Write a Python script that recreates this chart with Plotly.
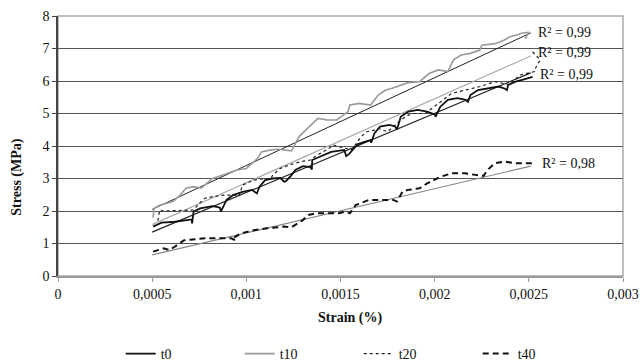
import plotly.graph_objects as go

# ---- data (strain, stress) ----
t0_strain = [0.000505, 0.00055, 0.00062, 0.00068, 0.00071, 0.000712, 0.000720, 0.000755, 0.00082, 0.00085, 0.00086, 0.000865,
             0.000895, 0.00093, 0.00098, 0.00103, 0.001056, 0.00107, 0.0011, 0.00114, 0.00118, 0.0012, 0.00121,
             0.00124, 0.00126, 0.0013, 0.00134, 0.001348, 0.00135, 0.00139, 0.00145, 0.00152, 0.00153, 0.001545,
             0.00159, 0.00164, 0.00166, 0.001663, 0.00168, 0.00171, 0.00176, 0.00179, 0.0018, 0.00182, 0.00186,
             0.00191, 0.00196, 0.002, 0.002005, 0.00203, 0.00207, 0.00212, 0.00216, 0.002177, 0.00219, 0.00223,
             0.00229, 0.00234, 0.00237, 0.002384, 0.00239, 0.00243, 0.00246, 0.0025, 0.00252]
t0_stress = [1.52, 1.64, 1.67, 1.72, 1.74, 1.62, 1.98, 2.08, 2.15, 2.12, 2.1, 1.98,
             2.34, 2.49, 2.59, 2.65, 2.54, 2.75, 2.95, 3.0, 3.02, 2.9, 2.92,
             3.1, 3.26, 3.38, 3.35, 3.28, 3.57, 3.67, 3.82, 3.88, 3.69, 3.75,
             4.05, 4.15, 4.18, 4.1, 4.39, 4.6, 4.65, 4.6, 4.51, 4.9, 5.06,
             5.11, 5.06, 4.97, 4.9, 5.21, 5.42, 5.47, 5.43, 5.36, 5.57, 5.72,
             5.77, 5.83, 5.77, 5.72, 5.88, 5.98, 6.03, 6.11, 6.13]

t10_strain = [0.000505, 0.00051, 0.00054, 0.00061, 0.00064, 0.00068, 0.00072, 0.00076, 0.00079, 0.00082,
              0.00086, 0.00095, 0.001, 0.00106, 0.00108, 0.00113, 0.00117, 0.00121, 0.00124, 0.00128,
              0.00136, 0.00138, 0.00143, 0.00148, 0.00154, 0.00155, 0.0016, 0.00166, 0.00170, 0.00174,
              0.00177, 0.00182, 0.00186, 0.00192, 0.00197, 0.00202, 0.00207, 0.0021, 0.00214, 0.00219,
              0.00224, 0.00225, 0.00232, 0.00237, 0.00240, 0.00244, 0.00246, 0.0025, 0.00248, 0.00249]
t10_stress = [1.8, 2.08, 2.18, 2.29, 2.44, 2.7, 2.75, 2.7, 2.85, 3.0,
              3.08, 3.26, 3.31, 3.62, 3.82, 3.88, 3.9, 3.88, 3.85, 4.29,
              4.75, 4.85, 4.8, 4.8, 5.06, 5.26, 5.31, 5.26, 5.57, 5.72,
              5.77, 5.88, 5.95, 5.98, 6.23, 6.34, 6.29, 6.65, 6.8, 6.85,
              6.95, 7.1, 7.15, 7.26, 7.36, 7.42, 7.47, 7.5, 7.3, 7.4]

t20_strain = [0.00053, 0.00054, 0.00056, 0.00072, 0.00075, 0.00078, 0.00082, 0.00088, 0.00094, 0.00096,
              0.00098, 0.00104, 0.00110, 0.00113, 0.00114, 0.00118, 0.00123, 0.00129, 0.00134, 0.00137,
              0.00144, 0.00146, 0.00149, 0.00156, 0.00161, 0.00164, 0.00168, 0.00170, 0.00175, 0.00182,
              0.00186, 0.00189, 0.00195, 0.00202, 0.00209, 0.00224, 0.00230, 0.00232, 0.00236, 0.00240,
              0.00245, 0.00249, 0.00253, 0.00253, 0.00256, 0.00252]
t20_stress = [1.7, 2.03, 2.0, 2.03, 2.23, 2.39, 2.44, 2.49, 2.49, 2.45,
              2.8, 2.95, 3.0, 3.0, 3.1, 3.31, 3.42, 3.52, 3.57, 3.7,
              3.93, 4.03, 3.98, 3.88, 4.29, 4.44, 4.49, 4.54, 4.44, 4.8,
              4.95, 5.0, 5.0, 5.31, 5.62, 5.83, 5.93, 5.98, 5.93, 5.88,
              6.18, 6.23, 6.29, 6.34, 6.65, 6.9]

t40_strain = [0.000505, 0.00056, 0.00059, 0.00062, 0.00067, 0.00078, 0.00086, 0.00092, 0.00094, 0.00093,
              0.00097, 0.00104, 0.00111, 0.0012, 0.00124, 0.0013, 0.00133, 0.00137, 0.00142, 0.00149, 0.00153,
              0.00155, 0.00158, 0.00165, 0.00172, 0.00178, 0.00180, 0.00183, 0.00186, 0.00192, 0.00196,
              0.00203, 0.00209, 0.00216, 0.00223, 0.00226, 0.00228, 0.00232, 0.00237, 0.00243, 0.00250, 0.00252]
t40_stress = [0.75, 0.85, 0.8, 0.9, 1.1, 1.16, 1.16, 1.16, 1.1, 1.16,
              1.31, 1.41, 1.47, 1.52, 1.5, 1.72, 1.88, 1.93, 1.93, 1.93, 1.98,
              1.93, 2.18, 2.34, 2.34, 2.34, 2.29, 2.6, 2.65, 2.7, 2.85,
              3.05, 3.16, 3.16, 3.1, 3.08, 3.26, 3.47, 3.52, 3.47, 3.47, 3.47]

# linear trendlines (start/end)
trend_strain = [0.0005, 0.00251]
trend_t0 = [1.35, 6.25]
trend_t10 = [2.05, 7.48]
trend_t20 = [1.58, 6.77]
trend_t40 = [0.65, 3.38]

r2_labels = ["R² = 0,99", "R² = 0,99", "R² = 0,99", "R² = 0,98"]
r2_strain = [0.00254, 0.00254, 0.00255, 0.00256]
r2_stress = [7.49, 6.87, 6.2, 3.47]

x_ticks = [0, 0.0005, 0.001, 0.0015, 0.002, 0.0025, 0.003]
x_tick_text = ["0", "0,0005", "0,001", "0,0015", "0,002", "0,0025", "0,003"]
y_ticks = [0, 1, 2, 3, 4, 5, 6, 7, 8]
x_title = "Strain (%)"
y_title = "Stress (MPa)"

FONT = "Liberation Serif, Times New Roman, serif"

fig = go.Figure()

# trendlines (no legend)
for ys, col, w in [(trend_t10, "#222222", 1), (trend_t20, "#aaaaaa", 1.2),
                   (trend_t0, "#222222", 1.2), (trend_t40, "#888888", 1.2)]:
    fig.add_trace(go.Scatter(x=trend_strain, y=ys, mode="lines", showlegend=False,
                             line=dict(color=col, width=w), hoverinfo="skip"))

fig.add_trace(go.Scatter(x=t0_strain, y=t0_stress, mode="lines", name="t0",
                         line=dict(color="#111111", width=1.8)))
fig.add_trace(go.Scatter(x=t10_strain, y=t10_stress, mode="lines", name="t10",
                         line=dict(color="#9a9a9a", width=1.6)))
fig.add_trace(go.Scatter(x=t20_strain, y=t20_stress, mode="lines", name="t20",
                         line=dict(color="#222222", width=1.2, dash="dot")))
fig.add_trace(go.Scatter(x=t40_strain, y=t40_stress, mode="lines", name="t40",
                         line=dict(color="#111111", width=2, dash="6px,4px")))

for txt, xx, yy in zip(r2_labels, r2_strain, r2_stress):
    fig.add_annotation(x=xx, y=yy, text=txt, showarrow=False, xanchor="left",
                       yanchor="middle", font=dict(family=FONT, size=14, color="#111111"))

# axis titles
fig.add_annotation(xref="paper", yref="paper", x=0.517, y=-0.162, text="<b>" + x_title + "</b>",
                   showarrow=False, xanchor="center", yanchor="middle",
                   font=dict(family=FONT, size=14, color="#111111"))
fig.add_annotation(xref="paper", yref="paper", x=-0.073, y=0.381, text="<b>" + y_title + "</b>",
                   showarrow=False, xanchor="center", yanchor="middle", textangle=-90,
                   font=dict(family=FONT, size=14, color="#111111"))

# light grey plot border (top/right)
fig.add_shape(type="rect", xref="paper", yref="paper", x0=0, y0=0, x1=1, y1=1,
              line=dict(color="#aaaaaa", width=1.5), layer="below")

fig.update_layout(
    width=640, height=362,
    margin=dict(l=58, r=17, t=16, b=86, autoexpand=False),
    paper_bgcolor="white", plot_bgcolor="white",
    font=dict(family=FONT, size=14, color="#111111"),
    showlegend=True,
    legend=dict(orientation="h", x=0.111, xanchor="left", y=-0.30, yanchor="middle",
                entrywidth=74, entrywidthmode="pixels", itemwidth=30,
                font=dict(family=FONT, size=14, color="#111111")),
    xaxis=dict(range=[0, 0.003], tickvals=x_ticks, ticktext=x_tick_text,
               showgrid=False, zeroline=False, showline=True, linecolor="#999999", linewidth=1.5,
               ticks="outside", ticklen=4, tickcolor="#999999"),
    yaxis=dict(range=[0, 8], tickvals=y_ticks, showgrid=True, gridcolor="#555555", gridwidth=1.2,
               zeroline=False, showline=True, linecolor="#444444", linewidth=1.5,
               ticks="outside", ticklen=4, tickcolor="#444444"),
)

fig.write_html("out.html", config={"displayModeBar": False},
               post_script="document.body.style.margin='0';")
